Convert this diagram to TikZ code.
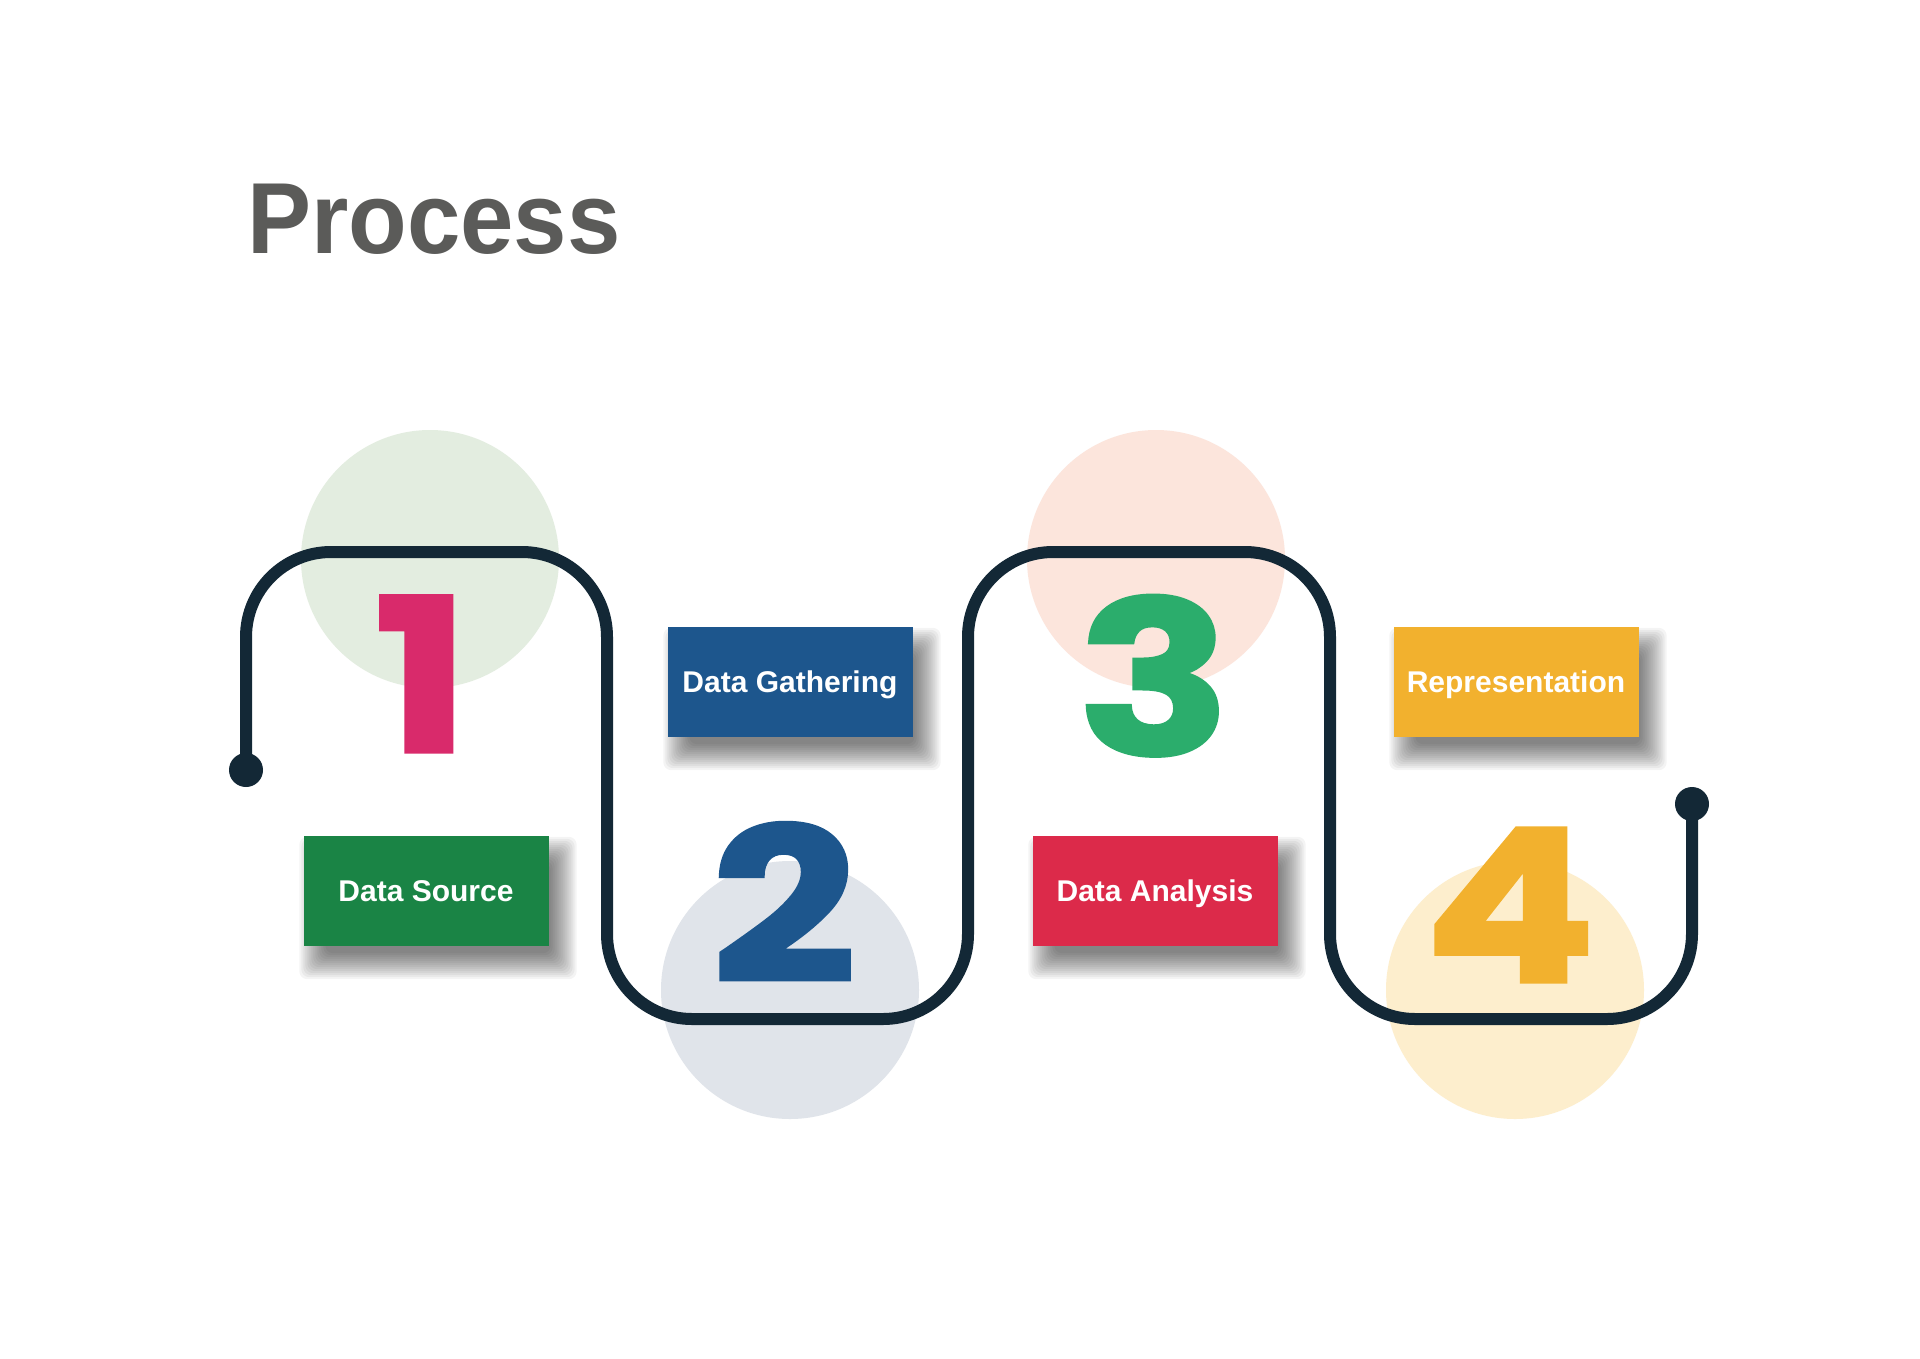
\documentclass[tikz,border=0pt]{standalone}
\usepackage{fontspec}
\setmainfont{Liberation Sans}
\newfontfamily\digfont{Poppins}[BoldFeatures={FakeBold=1.5}]
\definecolor{pathc}{HTML}{132836}
\definecolor{titlec}{HTML}{5B5B59}
\definecolor{cA}{HTML}{E3EDE0}
\definecolor{cB}{HTML}{E0E4EA}
\definecolor{cC}{HTML}{FCE5DC}
\definecolor{cD}{HTML}{FDEECD}
\definecolor{dA}{HTML}{D92A6B}
\definecolor{dB}{HTML}{1D568D}
\definecolor{dC}{HTML}{2BAD6C}
\definecolor{dD}{HTML}{F2B12E}
\definecolor{bA}{HTML}{1A8445}
\definecolor{bB}{HTML}{1D568D}
\definecolor{bC}{HTML}{DC2A4A}
\definecolor{bD}{HTML}{F2B12E}
\pgfdeclarelayer{circlayer}
\pgfdeclarelayer{shadowlayer}
\pgfsetlayers{circlayer,shadowlayer,main}
\newcommand\widedigit[1]{\scalebox{1.19}[1]{#1}}
\tikzset{
  bgcirc/.style={circle, inner sep=0pt, minimum size=258pt},
  digit/.style={anchor=base, inner sep=0pt, font=\digfont\bfseries\fontsize{214}{214}\selectfont},
  labelbox/.style={minimum width=245pt, minimum height=110pt, inner sep=0pt, text=white,
    text height=21.5pt, text depth=0pt, font=\bfseries\fontsize{30}{30}\selectfont},
  shadowpiece/.style={fill=black, opacity=0.045, rounded corners=8pt},
  enddot/.style={circle, fill=pathc, inner sep=0pt, minimum size=34pt},
  route/.style={draw=pathc, line width=12pt, rounded corners=85pt}
}
\newcommand\mkshadow[1]{%
  \begin{pgfonlayer}{shadowlayer}
  \foreach \k in {0,...,13}{%
    \pgfmathsetmacro\rr{16-2*\k}%
    \pgfmathsetmacro\xa{12-\rr}%
    \pgfmathsetmacro\xb{12+\rr}%
    \pgfmathsetmacro\ya{-17-\rr}%
    \pgfmathsetmacro\yb{-17+\rr}%
    \fill[shadowpiece] ([xshift=\xa pt, yshift=\ya pt]#1.south west) rectangle ([xshift=\xb pt, yshift=\yb pt]#1.north east);
  }%
  \end{pgfonlayer}}
\begin{document}
\begin{tikzpicture}[x=1pt,y=-1pt]
\begin{pgfonlayer}{circlayer}
\fill[white] (0,0) rectangle (1920,1358);
\end{pgfonlayer}
\useasboundingbox (0,0) rectangle (1920,1358);
% title
\node[anchor=base west, inner sep=0pt, text=titlec, font=\bfseries\fontsize{101}{101}\selectfont] (title) at (247,253) {\scalebox{0.95}[1]{Process}};
% background circles
\begin{pgfonlayer}{circlayer}
\node[bgcirc, fill=cA] (c1) at (430,559) {};
\node[bgcirc, fill=cB] (c2) at (790,990) {};
\node[bgcirc, fill=cC] (c3) at (1156,559) {};
\node[bgcirc, fill=cD] (c4) at (1515,990) {};
\end{pgfonlayer}
% route
\node[enddot] (s) at (246,770) {};
\node[enddot] (e) at (1692,804) {};
\coordinate (p1) at (246,552);
\coordinate (p2) at (607,552);
\coordinate (p3) at (607,1019);
\coordinate (p4) at (968,1019);
\coordinate (p5) at (968,552);
\coordinate (p6) at (1330,552);
\coordinate (p7) at (1330,1019);
\coordinate (p8) at (1692,1019);
\draw[route] (s.center) -- (p1) -- (p2) -- (p3) -- (p4) -- (p5) -- (p6) -- (p7) -- (p8) -- (e.center);
% digits
\node[digit, text=dA] (n1) at (422,752) {\widedigit{1}};
\node[digit, text=dB] (n2) at (784,982) {\widedigit{2}};
\node[digit, text=dC] (n3) at (1154,755) {\widedigit{3}};
\node[digit, text=dD] (n4) at (1510,982) {\widedigit{4}};
% label boxes
\node[labelbox, fill=bA] (l1) at (426,891) {Data Source};
\node[labelbox, fill=bB] (l2) at (790,682) {Data Gathering};
\node[labelbox, fill=bC] (l3) at (1155,891) {Data Analysis};
\node[labelbox, fill=bD] (l4) at (1516,682) {Representation};
\mkshadow{l1}
\mkshadow{l2}
\mkshadow{l3}
\mkshadow{l4}
\end{tikzpicture}
\end{document}
